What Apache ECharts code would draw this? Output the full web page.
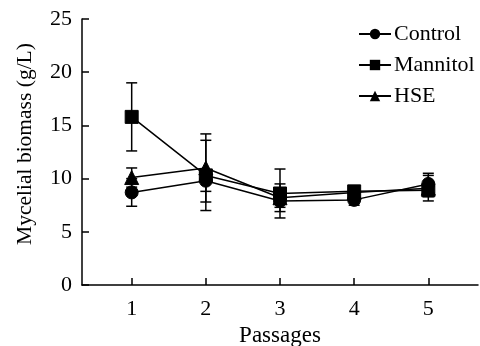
<!DOCTYPE html>
<html>
<head>
<meta charset="utf-8">
<script src="https://cdn.jsdelivr.net/npm/echarts@6/dist/echarts.min.js"></script>
<style>
  html, body { margin: 0; padding: 0; background: #fff; }
  #chart { width: 480px; height: 346px; }
</style>
</head>
<body>
<div id="chart"></div>
<script>
// Mycelial biomass over successive passages (mean ± error)
const passages = [1, 2, 3, 4, 5];
const controlMean = [8.7, 9.8, 7.9, 8.0, 9.5];
const controlErr  = [1.3, 1.0, 0.6, 0.5, 1.0];
const mannitolMean = [15.8, 10.3, 8.6, 8.8, 8.9];
const mannitolErr  = [3.2, 3.3, 2.3, 0.3, 0.6];
const hseMean = [10.1, 11.0, 8.2, 8.7, 9.1];
const hseErr  = [0.9, 3.2, 1.3, 0.3, 1.2];
const yTicks = [0, 5, 10, 15, 20, 25];
const sigIndex = [0]; // passages marked significant (Mannitol)

const FONT = '"Liberation Serif", "Times New Roman", serif';
const chart = echarts.init(document.getElementById('chart'), null, { renderer: 'canvas' });

function pairs(mean) { return passages.map((p, i) => [p, mean[i]]); }
function errData(mean, err) { return passages.map((p, i) => [p, mean[i] - err[i], mean[i] + err[i]]); }

function errorBars(name, mean, err) {
  return {
    type: 'custom',
    name: name + ' err',
    data: errData(mean, err),
    z: 1,
    silent: true,
    renderItem: function (params, api) {
      const x = api.value(0);
      const lo = api.coord([x, api.value(1)]);
      const hi = api.coord([x, api.value(2)]);
      const w = 5.5;
      const style = { stroke: '#000', lineWidth: 1.5 };
      return {
        type: 'group',
        children: [
          { type: 'line', shape: { x1: lo[0], y1: lo[1], x2: hi[0], y2: hi[1] }, style: style },
          { type: 'line', shape: { x1: lo[0] - w, y1: lo[1], x2: lo[0] + w, y2: lo[1] }, style: style },
          { type: 'line', shape: { x1: hi[0] - w, y1: hi[1], x2: hi[0] + w, y2: hi[1] }, style: style }
        ]
      };
    }
  };
}

function lineSeries(name, mean, symbol, size) {
  return {
    type: 'line',
    name: name,
    data: pairs(mean),
    symbol: symbol,
    symbolSize: size,
    showAllSymbol: true,
    z: 3,
    lineStyle: { color: '#000', width: 1.5 },
    itemStyle: { color: '#000', borderColor: '#000' },
    emphasis: { disabled: true }
  };
}

chart.setOption({
  animation: false,
  backgroundColor: '#fff',
  grid: { left: 82, right: 2, top: 19, bottom: 61, containLabel: false, outerBoundsMode: 'none' },
  legend: {
    orient: 'vertical',
    left: 353,
    top: 18,
    itemWidth: 32,
    itemHeight: 13,
    itemGap: 9,
    data: ['Control', 'Mannitol', 'HSE'],
    textStyle: { fontFamily: FONT, fontSize: 22, color: '#000', padding: [0, 0, 0, -2] },
    selectedMode: false
  },
  xAxis: {
    type: 'value',
    min: 0.33,
    max: 5.67,
    name: 'Passages',
    nameLocation: 'middle',
    nameGap: 37,
    nameTextStyle: { fontFamily: FONT, fontSize: 23, color: '#000' },
    axisLine: { lineStyle: { color: '#000', width: 1.5 } },
    axisTick: { inside: true, length: 7, customValues: passages, lineStyle: { color: '#000', width: 1.5 } },
    axisLabel: { customValues: passages, fontFamily: FONT, fontSize: 22, color: '#000', margin: 13 },
    splitLine: { show: false }
  },
  yAxis: {
    type: 'value',
    min: 0,
    max: 25,
    interval: 5,
    name: 'Mycelial biomass (g/L)',
    nameLocation: 'middle',
    nameGap: 46,
    nameTextStyle: { fontFamily: FONT, fontSize: 21.5, color: '#000', padding: [0, 0, 0, 16] },
    axisLine: { show: true, lineStyle: { color: '#000', width: 1.5 } },
    axisTick: { show: true, inside: true, length: 7, customValues: yTicks, lineStyle: { color: '#000', width: 1.5 } },
    axisLabel: { customValues: yTicks, fontFamily: FONT, fontSize: 22, color: '#000', margin: 10 },
    splitLine: { show: false }
  },
  series: [
    errorBars('Control', controlMean, controlErr),
    errorBars('Mannitol', mannitolMean, mannitolErr),
    errorBars('HSE', hseMean, hseErr),
    lineSeries('Control', controlMean, 'circle', 13),
    lineSeries('Mannitol', mannitolMean, 'rect', 13),
    lineSeries('HSE', hseMean, 'triangle', 14),
    {
      type: 'scatter',
      name: 'significance',
      data: sigIndex.map(i => [passages[i], mannitolMean[i] + mannitolErr[i]]),
      symbol: 'none',
      silent: true,
      label: {
        show: true,
        formatter: '*',
        position: 'top',
        distance: 4,
        fontFamily: FONT,
        fontSize: 20,
        color: '#000'
      }
    }
  ]
});
</script>
</body>
</html>
